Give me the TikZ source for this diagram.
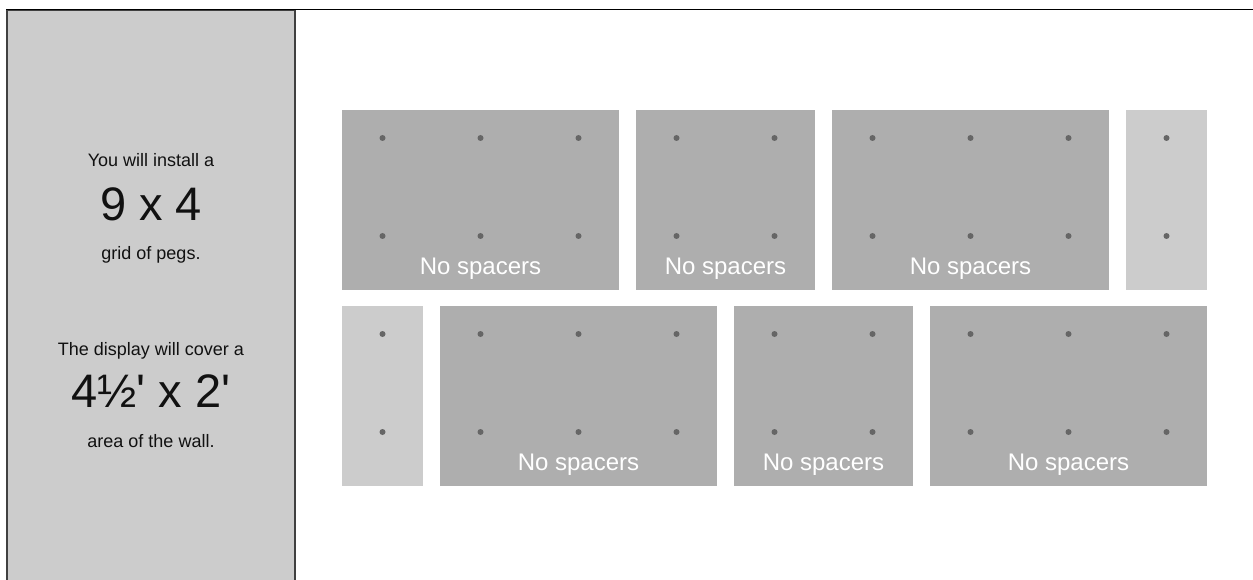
\documentclass[tikz,border=0pt]{standalone}
\usepackage{fontspec}
\newfontfamily\helv{Liberation Sans}
\definecolor{panelDark}{HTML}{AEAEAE}
\definecolor{panelLight}{HTML}{CCCCCC}
\definecolor{pegCol}{HTML}{666666}
\definecolor{edgeCol}{HTML}{404040}
\definecolor{txtCol}{HTML}{111111}
\tikzset{
  darkpanel/.style={fill=panelDark, draw=none, minimum height=179.5, inner sep=0, outer sep=0},
  lightpanel/.style={fill=panelLight, draw=none, minimum height=179.5, inner sep=0, outer sep=0},
  spacerlabel/.style={font=\helv\fontsize{24}{26}\selectfont, text=white, anchor=base, inner sep=0},
  smalltxt/.style={font=\helv\fontsize{18}{20}\selectfont, text=txtCol, anchor=base, inner sep=0},
  bigtxt/.style={font=\helv\fontsize{47}{50}\selectfont, text=txtCol, anchor=base, inner sep=0},
}
\begin{document}
\begin{tikzpicture}[x=1pt,y=-1pt]
\useasboundingbox (0,0) rectangle (1253,580);
\fill[white] (0,0) rectangle (1253,580);
% left info panel
\node[fill=panelLight, draw=edgeCol, line width=1.5pt, anchor=north west, minimum width=288, minimum height=580, inner sep=0, outer sep=0] (info) at (7,10) {};
\draw[black, line width=1.3pt] (6,9.5) -- (1253,9.5);
% texts
\node[smalltxt] (t1) at (151,166.5) {You will install a};
\node[bigtxt] (t2) at (151,220.5) {9 x 4};
\node[smalltxt] (t3) at (151,259.5) {grid of pegs.};
\node[smalltxt] (t4) at (151,355) {The display will cover a};
\node[bigtxt] (t5) at (151,407.5) {4½' x 2'};
\node[smalltxt] (t6) at (151,447.5) {area of the wall.};
% row 1 panels
\node[darkpanel, minimum width=277] (p1) at (480.5,199.75) {};
\node[darkpanel, minimum width=179] (p2) at (725.5,199.75) {};
\node[darkpanel, minimum width=277] (p3) at (970.5,199.75) {};
\node[lightpanel, minimum width=81] (p4) at (1166.5,199.75) {};
% row 2 panels
\node[lightpanel, minimum width=81] (q1) at (382.5,395.75) {};
\node[darkpanel, minimum width=277] (q2) at (578.5,395.75) {};
\node[darkpanel, minimum width=179] (q3) at (823.5,395.75) {};
\node[darkpanel, minimum width=277] (q4) at (1068.5,395.75) {};
% labels
\foreach \p in {p1,p2,p3,q2,q3,q4}{
  \node[spacerlabel] (lab-\p) at ([yshift=15.5pt]\p.south) {No spacers};
}
% pegs
\foreach \i in {0,...,8}{
  \foreach \yy in {138,236,334,432}{
    \fill[pegCol] (382.5+98*\i,\yy) circle[radius=3pt];
  }
}
\end{tikzpicture}
\end{document}
